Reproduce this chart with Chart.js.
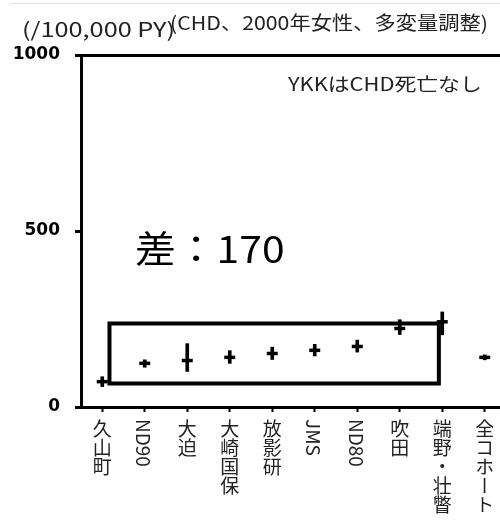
<!DOCTYPE html>
<html>
<head>
<meta charset="utf-8">
<script src="https://cdn.jsdelivr.net/npm/chart.js@4/dist/chart.umd.min.js"></script>
<style>
  html, body { margin: 0; padding: 0; background: #fff; overflow: hidden; width: 500px; height: 522px; }
  #wrap { position: relative; width: 506px; height: 522px; }
  #c { position: absolute; left: 0; top: 0; }
  .txt { position: absolute; white-space: nowrap; line-height: 1; color: #222;
         font-family: "Noto Sans CJK JP", "Noto Sans", sans-serif; transform-origin: 0 0; }
  .xl { position: absolute; writing-mode: vertical-rl; white-space: nowrap; line-height: 1;
        font-family: "Noto Sans CJK JP", sans-serif; font-size: 19px; color: #222; }
  #rule { position: absolute; left: 10px; right: 0; top: 3px; height: 1px; background: #e2e2e2; }
</style>
</head>
<body>
<div id="wrap">
  <div id="rule"></div>
  <canvas id="c" width="506" height="522"></canvas>
  <div class="txt" id="unit" style="left:22px;top:19px;font-size:20px;">(/100,000 PY)</div>
  <div class="txt" id="title" style="left:170px;top:12px;font-size:19px;">(CHD、2000年女性、多変量調整)</div>
  <div class="txt" id="note" style="left:288px;top:74px;font-size:18px;">YKKはCHD死亡なし</div>
  <div class="txt" id="gap" style="left:135px;top:229px;font-size:37px;color:#000;">差：170</div>
</div>
<script>
// Cohorts along the x axis
const cohorts = ['久山町', 'ND90', '大迫', '大崎国保', '放影研', 'JMS', 'ND80', '吹田', '端野・壮瞥', '全コホート'];
// Adjusted CHD mortality per 100,000 person-years (women, 2000)
const rates  = [72, 124, 132, 141, 152, 161, 172, 223, 242, 141];
const ciLow  = [58, 113, 101, 124, 135, 145, 156, 206, 205, 134];
const ciHigh = [86, 134, 180, 160, 170, 178, 190, 248, 270, 148];
// Y axis ticks
const yTicks = [0, 500, 1000];
// Range box between lowest and highest cohort: bottom value and the stated gap (170)
const gapBottom = 67;
const gapValue = 170;
const gapFromCat = 0.17;
const gapToCat = 7.92;

const xBounds = cohorts.map((_, i) => i - 0.5).concat([cohorts.length - 0.5]);
const gapTop = gapBottom + gapValue;

const chart = new Chart(document.getElementById('c'), {
  type: 'scatter',
  data: {
    datasets: [
      {
        type: 'bar',
        data: cohorts.map((_, i) => ({ x: i, y: [ciLow[i], ciHigh[i]] })),
        backgroundColor: '#000',
        borderWidth: 0,
        barThickness: 3,
        order: 3
      },
      {
        type: 'scatter',
        data: cohorts.map((_, i) => ({ x: i, y: rates[i] })),
        pointStyle: 'line',
        pointRadius: 5.5,
        borderColor: '#000',
        backgroundColor: '#000',
        borderWidth: 3.5,
        order: 2
      },
      {
        type: 'line',
        data: [
          { x: gapFromCat, y: gapBottom },
          { x: gapToCat, y: gapBottom },
          { x: gapToCat, y: gapTop },
          { x: gapFromCat, y: gapTop },
          { x: gapFromCat, y: gapBottom },
          { x: gapToCat, y: gapBottom }
        ],
        borderColor: '#000',
        borderWidth: 4,
        borderJoinStyle: 'miter',
        pointRadius: 0,
        fill: false,
        tension: 0,
        order: 1
      }
    ]
  },
  options: {
    responsive: false,
    animation: false,
    devicePixelRatio: 1,
    layout: { autoPadding: false, padding: { left: 13, top: 55, right: 0, bottom: 110 } },
    plugins: { legend: { display: false }, tooltip: { enabled: false } },
    scales: {
      x: {
        type: 'linear',
        min: -0.5,
        max: cohorts.length - 0.5,
        offset: false,
        afterBuildTicks: s => { s.ticks = xBounds.map(v => ({ value: v })); },
        ticks: { display: false },
        grid: { drawOnChartArea: false, drawTicks: true, tickLength: 5, tickWidth: 2, tickColor: '#000' },
        border: { display: true, color: '#000', width: 3 }
      },
      y: {
        min: 0,
        max: 1000,
        afterBuildTicks: s => { s.ticks = yTicks.map(v => ({ value: v })); },
        afterFit: s => { s.width = 68; },
        ticks: {
          font: { family: 'DejaVu Sans', size: 17, weight: 'bold' },
          color: '#000',
          padding: 15,
          callback: v => String(v)
        },
        grid: {
          color: c => (c.tick && c.tick.value === 1000 ? '#000' : 'rgba(0,0,0,0)'),
          lineWidth: 3,
          tickLength: 6,
          tickWidth: 3,
          tickColor: '#000'
        },
        border: { color: '#000', width: 3 }
      }
    }
  }
});

// Vertical cohort labels under each category
const xs = chart.scales.x;
const wrap = document.getElementById('wrap');
cohorts.forEach((name, i) => {
  const d = document.createElement('div');
  d.className = 'xl';
  d.textContent = name;
  wrap.appendChild(d);
  d.style.left = (xs.getPixelForValue(i) - d.offsetWidth / 2) + 'px';
  d.style.top = (xs.bottom + 7) + 'px';
});

// Stretch header and note texts to their spans
function fit(id, width) {
  const el = document.getElementById(id);
  el.style.transform = 'scaleX(' + (width / el.offsetWidth) + ')';
}
fit('unit', 153);
fit('title', 318);
fit('note', 194);
fit('gap', 150);
</script>
</body>
</html>
